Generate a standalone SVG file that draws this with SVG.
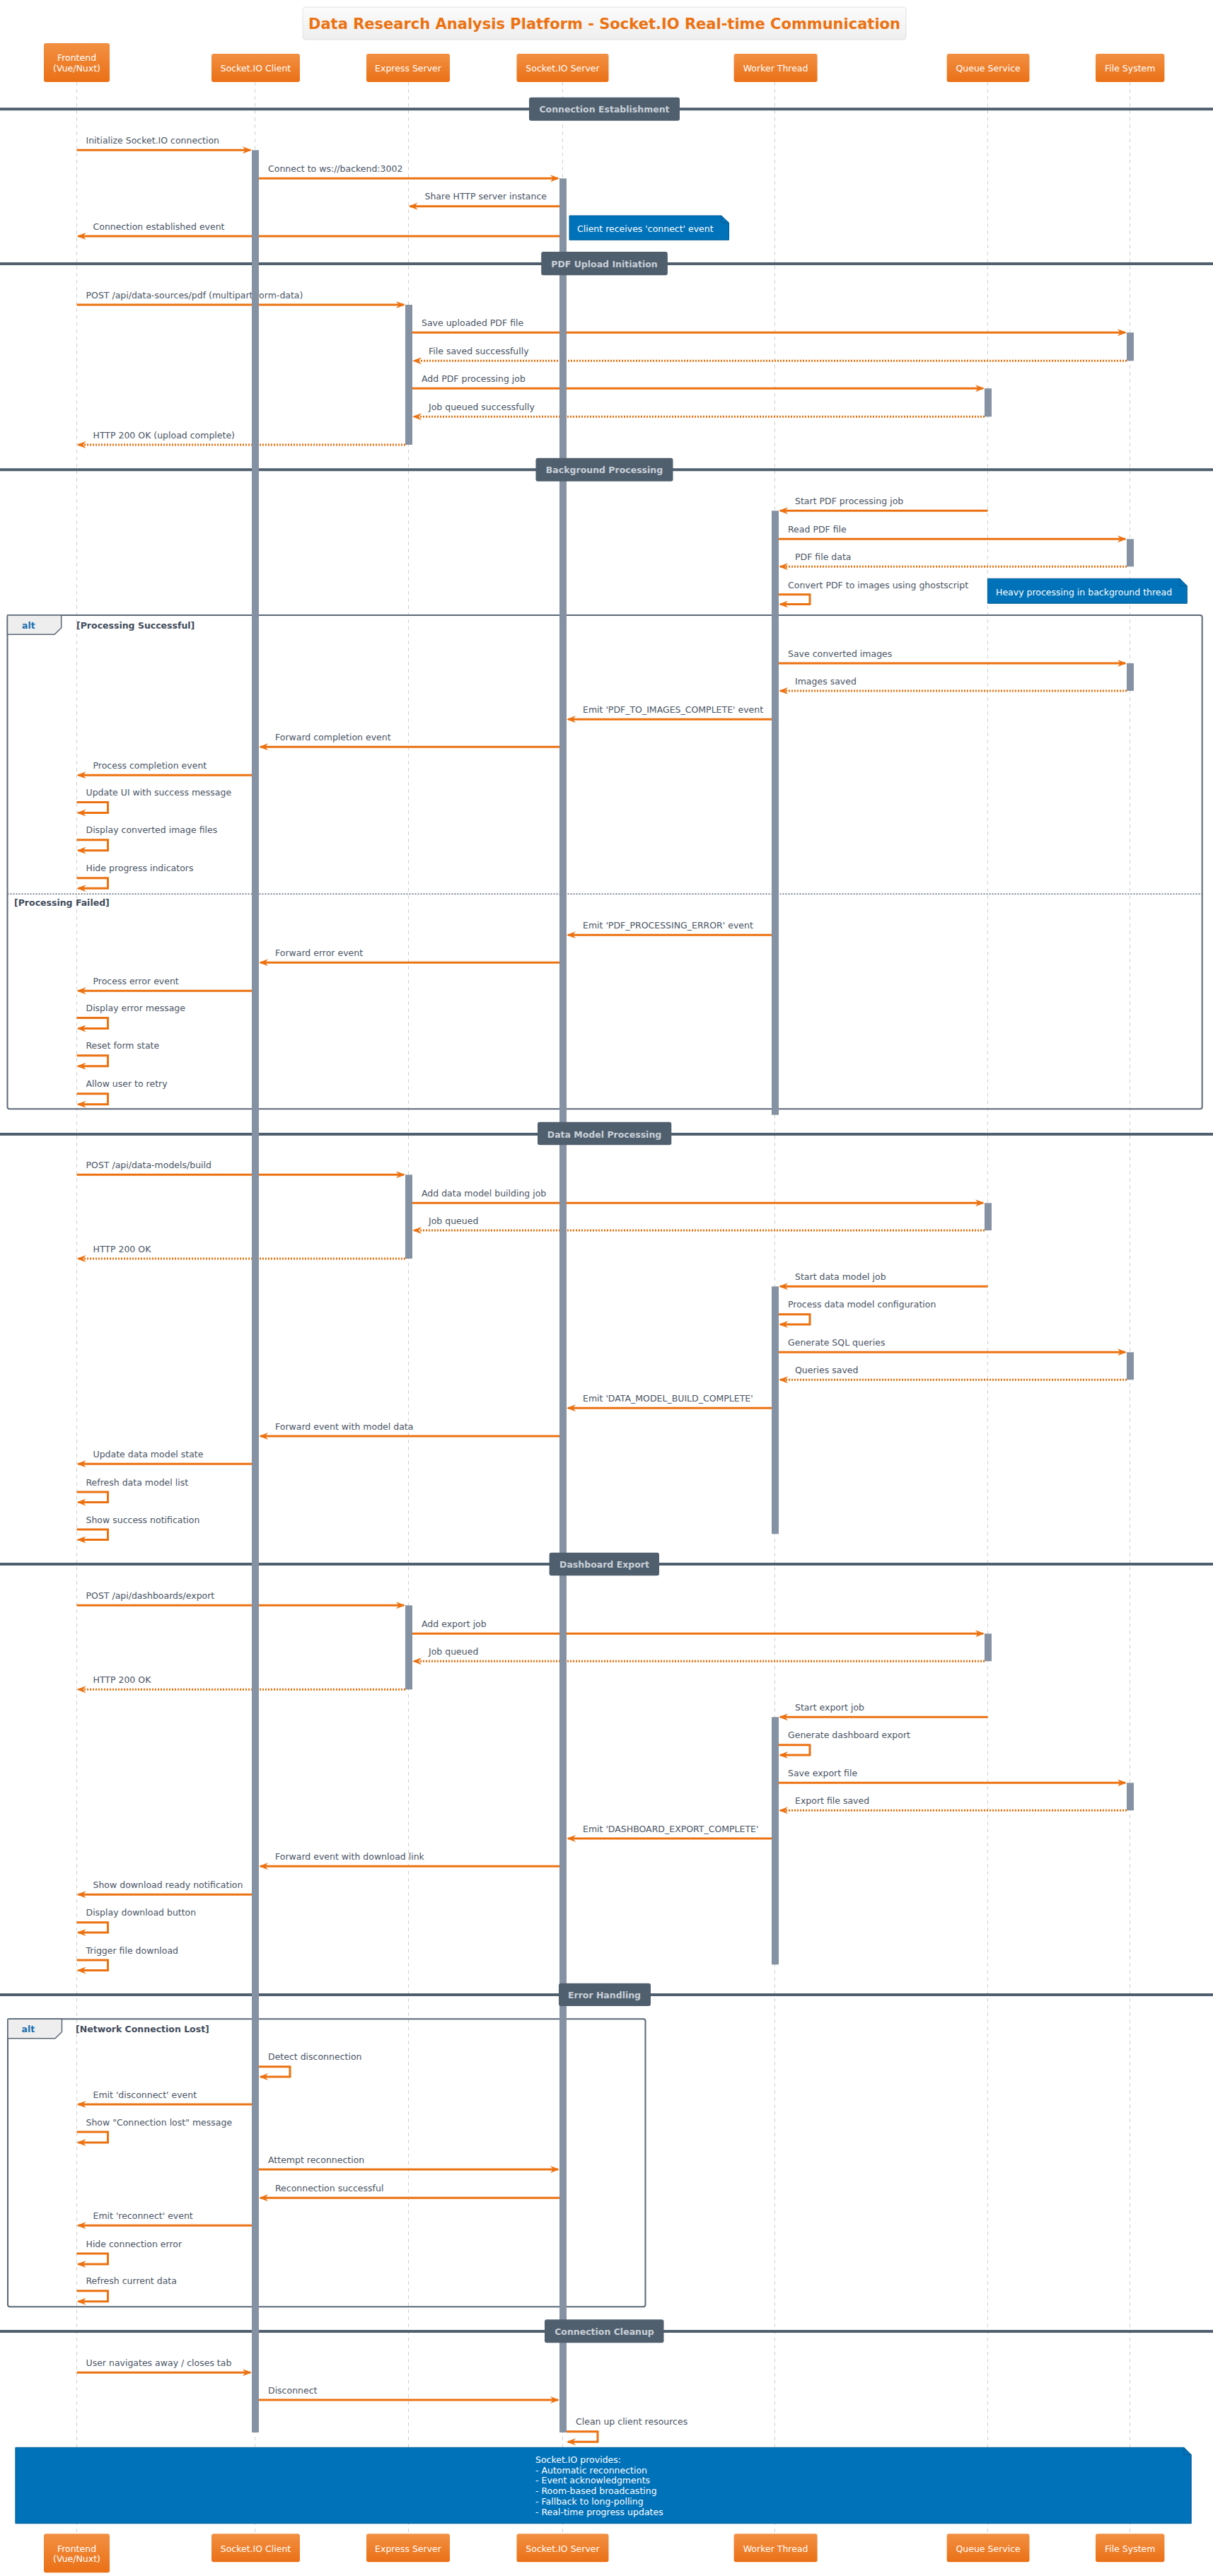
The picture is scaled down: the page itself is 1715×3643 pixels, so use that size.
<svg xmlns="http://www.w3.org/2000/svg" width="1715" height="3643" viewBox="0 0 1715 3643">
<defs>
<linearGradient id="pg" x1="0" y1="0" x2="0" y2="1"><stop offset="0" stop-color="#F29043"/><stop offset="1" stop-color="#EA7016"/></linearGradient>
<linearGradient id="tg" x1="0" y1="0" x2="0" y2="1"><stop offset="0" stop-color="#FCFCFC"/><stop offset="1" stop-color="#EEEEEE"/></linearGradient>
<marker id="ah" viewBox="0 0 13 10" refX="11" refY="5" markerWidth="13" markerHeight="10" orient="auto" markerUnits="userSpaceOnUse"><path d="M0,0 L13,5 L0,10 L4,5 Z" fill="#EC7211"/></marker>
<style>
text{font-family:"DejaVu Sans","Liberation Sans",sans-serif;font-size:12.5px}
.t{fill:#4A5565}
.pt{fill:#FFFFFF;text-anchor:middle}
.pb{fill:url(#pg)}
.life{stroke:#CFCFCF;stroke-width:1;stroke-dasharray:5 5}
.m{stroke:#EC7211;stroke-width:3;fill:none;marker-end:url(#ah)}
.r{stroke-dasharray:2 2}
.bar{fill:#8592A3}
.dl{stroke:#505F6E;stroke-width:4}
.db{fill:#505F6E}
.dt{fill:#C9D0D8;font-weight:bold;text-anchor:middle}
.fr{fill:none;stroke:#5B6877;stroke-width:1.5}
.tab{fill:#EEEEEE;stroke:#5B6877;stroke-width:1.5}
.alt{fill:#1A6FB0;font-weight:bold}
.cond{fill:#3F4B5B;font-weight:bold}
.note{fill:#0072B9;stroke:#005C96;stroke-width:1}
.nt{fill:#FFFFFF}
</style>
</defs>
<rect width="1715" height="3643" fill="#FFFFFF"/>

<g id="title">
<rect x="428" y="10" width="853" height="46" rx="4" fill="url(#tg)" stroke="#E2E2E2"/>
<text x="854.5" y="40.5" text-anchor="middle" style="font-size:21px;font-weight:bold;fill:#EC7211">Data Research Analysis Platform - Socket.IO Real-time Communication</text>
</g>

<g id="lifelines">
<line class="life" x1="108.5" y1="116" x2="108.5" y2="3583"/>
<line class="life" x1="360.5" y1="116" x2="360.5" y2="3583"/>
<line class="life" x1="577.5" y1="116" x2="577.5" y2="3583"/>
<line class="life" x1="795.5" y1="116" x2="795.5" y2="3583"/>
<line class="life" x1="1095.5" y1="116" x2="1095.5" y2="3583"/>
<line class="life" x1="1396.5" y1="116" x2="1396.5" y2="3583"/>
<line class="life" x1="1597.5" y1="116" x2="1597.5" y2="3583"/>
</g>

<g id="divider-lines">
<line class="dl" x1="0" y1="154.2" x2="1715" y2="154.2"/>
<line class="dl" x1="0" y1="373" x2="1715" y2="373"/>
<line class="dl" x1="0" y1="664.3" x2="1715" y2="664.3"/>
<line class="dl" x1="0" y1="1604" x2="1715" y2="1604"/>
<line class="dl" x1="0" y1="2212" x2="1715" y2="2212"/>
<line class="dl" x1="0" y1="2821" x2="1715" y2="2821"/>
<line class="dl" x1="0" y1="3297" x2="1715" y2="3297"/>
</g>

<g id="alt-frames">
<g id="alt-processing">
<rect class="fr" x="10.5" y="870" width="1689.2" height="698.3" rx="3" style="stroke-width:2"/>
<polygon class="tab" points="10.5,870 86.7,870 86.7,888 77,897.3 10.5,897.3"/>
<text class="alt" x="31" y="889">alt</text>
<text class="cond" x="108" y="889">[Processing Successful]</text>
<line x1="10.5" y1="1264.3" x2="1699.7" y2="1264.3" stroke="#5B6877" stroke-width="1.5" stroke-dasharray="2 2"/>
<text class="cond" x="20" y="1281">[Processing Failed]</text>
</g>
<g id="alt-network">
<rect class="fr" x="11" y="2855.3" width="901.5" height="407" rx="3" style="stroke-width:2"/>
<polygon class="tab" points="11,2855.3 87.5,2855.3 87.5,2873.5 78,2882.7 11,2882.7"/>
<text class="alt" x="30.6" y="2874">alt</text>
<text class="cond" x="107" y="2874">[Network Connection Lost]</text>
</g>
</g>

<g id="connectors">
<line class="m" x1="108.5" y1="212.3" x2="354" y2="212.3"/><text class="t" x="121.5" y="202.8">Initialize Socket.IO connection</text>
<line class="m" x1="366" y1="252.3" x2="789" y2="252.3"/><text class="t" x="379" y="242.8">Connect to ws://backend:3002</text>
<line class="m" x1="791" y1="291.7" x2="579.5" y2="291.7"/><text class="t" x="600.5" y="282.2">Share HTTP server instance</text>
<line class="m" x1="791" y1="334" x2="110.5" y2="334"/><text class="t" x="131.5" y="324.5">Connection established event</text>

<line class="m" x1="108.5" y1="431" x2="571" y2="431"/><text class="t" x="121.5" y="421.5">POST /api/data-sources/pdf (multipart/form-data)</text>
<line class="m" x1="583" y1="470.3" x2="1591" y2="470.3"/><text class="t" x="596" y="460.8">Save uploaded PDF file</text>
<line class="m r" x1="1593" y1="510.3" x2="585" y2="510.3"/><text class="t" x="606" y="500.8">File saved successfully</text>
<line class="m" x1="583" y1="549.3" x2="1390" y2="549.3"/><text class="t" x="596" y="539.8">Add PDF processing job</text>
<line class="m r" x1="1392" y1="589.3" x2="585" y2="589.3"/><text class="t" x="606" y="579.8">Job queued successfully</text>
<line class="m r" x1="573" y1="629" x2="110.5" y2="629"/><text class="t" x="131.5" y="619.5">HTTP 200 OK (upload complete)</text>

<line class="m" x1="1396.5" y1="722.3" x2="1103" y2="722.3"/><text class="t" x="1124" y="712.8">Start PDF processing job</text>
<line class="m" x1="1101" y1="762.3" x2="1591" y2="762.3"/><text class="t" x="1114" y="752.8">Read PDF file</text>
<line class="m r" x1="1593" y1="801.3" x2="1103" y2="801.3"/><text class="t" x="1124" y="791.8">PDF file data</text>
<path class="m" d="M1101,840.7 H1145 V854.5 H1103"/><text class="t" x="1114" y="831.5">Convert PDF to images using ghostscript</text>
<line class="m" x1="1101" y1="938" x2="1591" y2="938"/><text class="t" x="1114" y="928.5">Save converted images</text>
<line class="m r" x1="1593" y1="977" x2="1103" y2="977"/><text class="t" x="1124" y="967.5">Images saved</text>
<line class="m" x1="1091" y1="1017.3" x2="803" y2="1017.3"/><text class="t" x="824" y="1007.8">Emit 'PDF_TO_IMAGES_COMPLETE' event</text>
<line class="m" x1="791" y1="1056.3" x2="368" y2="1056.3"/><text class="t" x="389" y="1046.8">Forward completion event</text>
<line class="m" x1="356" y1="1096.3" x2="110.5" y2="1096.3"/><text class="t" x="131.5" y="1086.8">Process completion event</text>
<path class="m" d="M108.5,1134.5 H152.5 V1149.5 H110.5"/><text class="t" x="121.5" y="1125">Update UI with success message</text>
<path class="m" d="M108.5,1187.7 H152.5 V1202.7 H110.5"/><text class="t" x="121.5" y="1178.2">Display converted image files</text>
<path class="m" d="M108.5,1241.7 H152.5 V1256.2 H110.5"/><text class="t" x="121.5" y="1232.2">Hide progress indicators</text>
<line class="m" x1="1091" y1="1322.3" x2="803" y2="1322.3"/><text class="t" x="824" y="1312.8">Emit 'PDF_PROCESSING_ERROR' event</text>
<line class="m" x1="791" y1="1361.3" x2="368" y2="1361.3"/><text class="t" x="389" y="1351.8">Forward error event</text>
<line class="m" x1="356" y1="1401.3" x2="110.5" y2="1401.3"/><text class="t" x="131.5" y="1391.8">Process error event</text>
<path class="m" d="M108.5,1439.5 H152.5 V1454.5 H110.5"/><text class="t" x="121.5" y="1430">Display error message</text>
<path class="m" d="M108.5,1492.7 H152.5 V1507.7 H110.5"/><text class="t" x="121.5" y="1483.2">Reset form state</text>
<path class="m" d="M108.5,1546.7 H152.5 V1561.7 H110.5"/><text class="t" x="121.5" y="1537.2">Allow user to retry</text>

<line class="m" x1="108.5" y1="1661.3" x2="571" y2="1661.3"/><text class="t" x="121.5" y="1651.8">POST /api/data-models/build</text>
<line class="m" x1="583" y1="1701.3" x2="1390" y2="1701.3"/><text class="t" x="596" y="1691.8">Add data model building job</text>
<line class="m r" x1="1392" y1="1740" x2="585" y2="1740"/><text class="t" x="606" y="1730.5">Job queued</text>
<line class="m r" x1="573" y1="1780" x2="110.5" y2="1780"/><text class="t" x="131.5" y="1770.5">HTTP 200 OK</text>
<line class="m" x1="1396.5" y1="1819.3" x2="1103" y2="1819.3"/><text class="t" x="1124" y="1809.8">Start data model job</text>
<path class="m" d="M1101,1858.7 H1145 V1873 H1103"/><text class="t" x="1114" y="1849.2">Process data model configuration</text>
<line class="m" x1="1101" y1="1912.3" x2="1591" y2="1912.3"/><text class="t" x="1114" y="1902.8">Generate SQL queries</text>
<line class="m r" x1="1593" y1="1951.3" x2="1103" y2="1951.3"/><text class="t" x="1124" y="1941.8">Queries saved</text>
<line class="m" x1="1091" y1="1991.3" x2="803" y2="1991.3"/><text class="t" x="824" y="1981.8">Emit 'DATA_MODEL_BUILD_COMPLETE'</text>
<line class="m" x1="791" y1="2031" x2="368" y2="2031"/><text class="t" x="389" y="2021.5">Forward event with model data</text>
<line class="m" x1="356" y1="2070.3" x2="110.5" y2="2070.3"/><text class="t" x="131.5" y="2060.8">Update data model state</text>
<path class="m" d="M108.5,2110 H152.5 V2124.5 H110.5"/><text class="t" x="121.5" y="2100.5">Refresh data model list</text>
<path class="m" d="M108.5,2163 H152.5 V2177.5 H110.5"/><text class="t" x="121.5" y="2153.5">Show success notification</text>

<line class="m" x1="108.5" y1="2270.3" x2="571" y2="2270.3"/><text class="t" x="121.5" y="2260.8">POST /api/dashboards/export</text>
<line class="m" x1="583" y1="2310.3" x2="1390" y2="2310.3"/><text class="t" x="596" y="2300.8">Add export job</text>
<line class="m r" x1="1392" y1="2349.3" x2="585" y2="2349.3"/><text class="t" x="606" y="2339.8">Job queued</text>
<line class="m r" x1="573" y1="2389.3" x2="110.5" y2="2389.3"/><text class="t" x="131.5" y="2379.8">HTTP 200 OK</text>
<line class="m" x1="1396.5" y1="2428.3" x2="1103" y2="2428.3"/><text class="t" x="1124" y="2418.8">Start export job</text>
<path class="m" d="M1101,2467.7 H1145 V2482 H1103"/><text class="t" x="1114" y="2458.2">Generate dashboard export</text>
<line class="m" x1="1101" y1="2521.3" x2="1591" y2="2521.3"/><text class="t" x="1114" y="2511.8">Save export file</text>
<line class="m r" x1="1593" y1="2560.3" x2="1103" y2="2560.3"/><text class="t" x="1124" y="2550.8">Export file saved</text>
<line class="m" x1="1091" y1="2600" x2="803" y2="2600"/><text class="t" x="824" y="2590.5">Emit 'DASHBOARD_EXPORT_COMPLETE'</text>
<line class="m" x1="791" y1="2639.3" x2="368" y2="2639.3"/><text class="t" x="389" y="2629.8">Forward event with download link</text>
<line class="m" x1="356" y1="2679.3" x2="110.5" y2="2679.3"/><text class="t" x="131.5" y="2669.8">Show download ready notification</text>
<path class="m" d="M108.5,2718.7 H152.5 V2733 H110.5"/><text class="t" x="121.5" y="2709.2">Display download button</text>
<path class="m" d="M108.5,2772 H152.5 V2786.5 H110.5"/><text class="t" x="121.5" y="2762.5">Trigger file download</text>

<path class="m" d="M366,2922.7 H410 V2937 H368"/><text class="t" x="379" y="2913.2">Detect disconnection</text>
<line class="m" x1="356" y1="2976" x2="110.5" y2="2976"/><text class="t" x="131.5" y="2966.5">Emit 'disconnect' event</text>
<path class="m" d="M108.5,3015 H152.5 V3030 H110.5"/><text class="t" x="121.5" y="3005.5">Show "Connection lost" message</text>
<line class="m" x1="366" y1="3068" x2="789" y2="3068"/><text class="t" x="379" y="3058.5">Attempt reconnection</text>
<line class="m" x1="791" y1="3108.3" x2="368" y2="3108.3"/><text class="t" x="389" y="3098.8">Reconnection successful</text>
<line class="m" x1="356" y1="3147.3" x2="110.5" y2="3147.3"/><text class="t" x="131.5" y="3137.8">Emit 'reconnect' event</text>
<path class="m" d="M108.5,3187 H152.5 V3202 H110.5"/><text class="t" x="121.5" y="3177.5">Hide connection error</text>
<path class="m" d="M108.5,3239.7 H152.5 V3254.7 H110.5"/><text class="t" x="121.5" y="3230.2">Refresh current data</text>

<line class="m" x1="108.5" y1="3355.3" x2="354" y2="3355.3"/><text class="t" x="121.5" y="3345.8">User navigates away / closes tab</text>
<line class="m" x1="366" y1="3394" x2="789" y2="3394"/><text class="t" x="379" y="3384.5">Disconnect</text>
<path class="m" d="M801,3438.7 H845 V3453.3 H803"/><text class="t" x="814" y="3429.2">Clean up client resources</text>
</g>

<g id="activations">
<rect class="bar" x="356" y="212.3" width="10" height="3227.7"/>
<rect class="bar" x="791" y="252.3" width="10" height="3187.7"/>
<rect class="bar" x="573" y="431" width="10" height="198"/>
<rect class="bar" x="573" y="1661.3" width="10" height="118.7"/>
<rect class="bar" x="573" y="2270.3" width="10" height="119"/>
<rect class="bar" x="1593" y="470.3" width="10" height="40"/>
<rect class="bar" x="1593" y="762.3" width="10" height="39"/>
<rect class="bar" x="1593" y="938" width="10" height="39"/>
<rect class="bar" x="1593" y="1912.3" width="10" height="39"/>
<rect class="bar" x="1593" y="2521.3" width="10" height="39"/>
<rect class="bar" x="1392" y="549.3" width="10" height="40"/>
<rect class="bar" x="1392" y="1701.3" width="10" height="38.7"/>
<rect class="bar" x="1392" y="2310.3" width="10" height="39"/>
<rect class="bar" x="1091" y="722.3" width="10" height="854.4"/>
<rect class="bar" x="1091" y="1819.3" width="10" height="350"/>
<rect class="bar" x="1091" y="2428.3" width="10" height="350"/>
</g>

<g id="dividers">
<g id="div-connection-establishment"><rect class="db" x="748" y="137.7" width="213" height="33" rx="3"/><text class="dt" x="854.5" y="158.7">Connection Establishment</text></g>
<g id="div-pdf-upload"><rect class="db" x="765.2" y="356" width="178.7" height="33.3" rx="3"/><text class="dt" x="854.5" y="377.5">PDF Upload Initiation</text></g>
<g id="div-background"><rect class="db" x="757.5" y="647.7" width="194" height="33" rx="3"/><text class="dt" x="854.5" y="668.8">Background Processing</text></g>
<g id="div-data-model"><rect class="db" x="760" y="1586.7" width="189.3" height="32.6" rx="3"/><text class="dt" x="854.5" y="1608.5">Data Model Processing</text></g>
<g id="div-dashboard"><rect class="db" x="776.6" y="2195.7" width="155.4" height="32.6" rx="3"/><text class="dt" x="854.5" y="2216.5">Dashboard Export</text></g>
<g id="div-error"><rect class="db" x="790" y="2804.7" width="130" height="32.3" rx="3"/><text class="dt" x="854.5" y="2825.5">Error Handling</text></g>
<g id="div-cleanup"><rect class="db" x="770" y="3280.3" width="168.5" height="33" rx="3"/><text class="dt" x="854.5" y="3301.5">Connection Cleanup</text></g>
</g>

<g id="notes">
<g id="note-connect"><path class="note" d="M805,305 H1020 L1030.5,315 V339.3 H805 Z"/><path d="M1020,305 V315 H1030.5" fill="none" stroke="#005C96"/><text class="nt" x="816" y="327.5">Client receives 'connect' event</text></g>
<g id="note-heavy"><path class="note" d="M1396.4,818.3 H1668 L1678.3,828.5 V853.3 H1396.4 Z"/><path d="M1668,818.3 V828.5 H1678.3" fill="none" stroke="#005C96"/><text class="nt" x="1408" y="841.5">Heavy processing in background thread</text></g>
<g id="note-socketio"><path class="note" d="M21.9,3461.3 H1674 L1684.2,3471.5 V3568.7 H21.9 Z"/><path d="M1674,3461.3 V3471.5 H1684.2" fill="none" stroke="#005C96"/>
<text class="nt" x="757" y="3483">Socket.IO provides:</text>
<text class="nt" x="757" y="3497.7">- Automatic reconnection</text>
<text class="nt" x="757" y="3512.4">- Event acknowledgments</text>
<text class="nt" x="757" y="3527.1">- Room-based broadcasting</text>
<text class="nt" x="757" y="3541.8">- Fallback to long-polling</text>
<text class="nt" x="757" y="3556.5">- Real-time progress updates</text></g>
</g>

<g id="participants-top">
<g id="p-frontend"><rect class="pb" x="62" y="61" width="93" height="55" rx="3"/><text class="pt" x="108.5" y="86">Frontend</text><text class="pt" x="108.5" y="100.5">(Vue/Nuxt)</text></g>
<g id="p-socketio-client"><rect class="pb" x="299" y="76" width="125" height="40" rx="3"/><text class="pt" x="361.5" y="100.5">Socket.IO Client</text></g>
<g id="p-express-server"><rect class="pb" x="518" y="76" width="118" height="40" rx="3"/><text class="pt" x="577" y="100.5">Express Server</text></g>
<g id="p-socketio-server"><rect class="pb" x="730.5" y="76" width="130" height="40" rx="3"/><text class="pt" x="795.5" y="100.5">Socket.IO Server</text></g>
<g id="p-worker-thread"><rect class="pb" x="1037.6" y="76" width="118" height="40" rx="3"/><text class="pt" x="1096.6" y="100.5">Worker Thread</text></g>
<g id="p-queue-service"><rect class="pb" x="1338.7" y="76" width="116.8" height="40" rx="3"/><text class="pt" x="1397.1" y="100.5">Queue Service</text></g>
<g id="p-file-system"><rect class="pb" x="1549" y="76" width="97.4" height="40" rx="3"/><text class="pt" x="1597.7" y="100.5">File System</text></g>
</g>

<g id="participants-bottom">
<g id="p-frontend-bottom"><rect class="pb" x="62" y="3583.3" width="93" height="55" rx="3"/><text class="pt" x="108.5" y="3608.8">Frontend</text><text class="pt" x="108.5" y="3623.2">(Vue/Nuxt)</text></g>
<g id="p-socketio-client-bottom"><rect class="pb" x="299" y="3583.3" width="125" height="40" rx="3"/><text class="pt" x="361.5" y="3608.5">Socket.IO Client</text></g>
<g id="p-express-server-bottom"><rect class="pb" x="518" y="3583.3" width="118" height="40" rx="3"/><text class="pt" x="577" y="3608.5">Express Server</text></g>
<g id="p-socketio-server-bottom"><rect class="pb" x="730.5" y="3583.3" width="130" height="40" rx="3"/><text class="pt" x="795.5" y="3608.5">Socket.IO Server</text></g>
<g id="p-worker-thread-bottom"><rect class="pb" x="1037.6" y="3583.3" width="118" height="40" rx="3"/><text class="pt" x="1096.6" y="3608.5">Worker Thread</text></g>
<g id="p-queue-service-bottom"><rect class="pb" x="1338.7" y="3583.3" width="116.8" height="40" rx="3"/><text class="pt" x="1397.1" y="3608.5">Queue Service</text></g>
<g id="p-file-system-bottom"><rect class="pb" x="1549" y="3583.3" width="97.4" height="40" rx="3"/><text class="pt" x="1597.7" y="3608.5">File System</text></g>
</g>
</svg>
